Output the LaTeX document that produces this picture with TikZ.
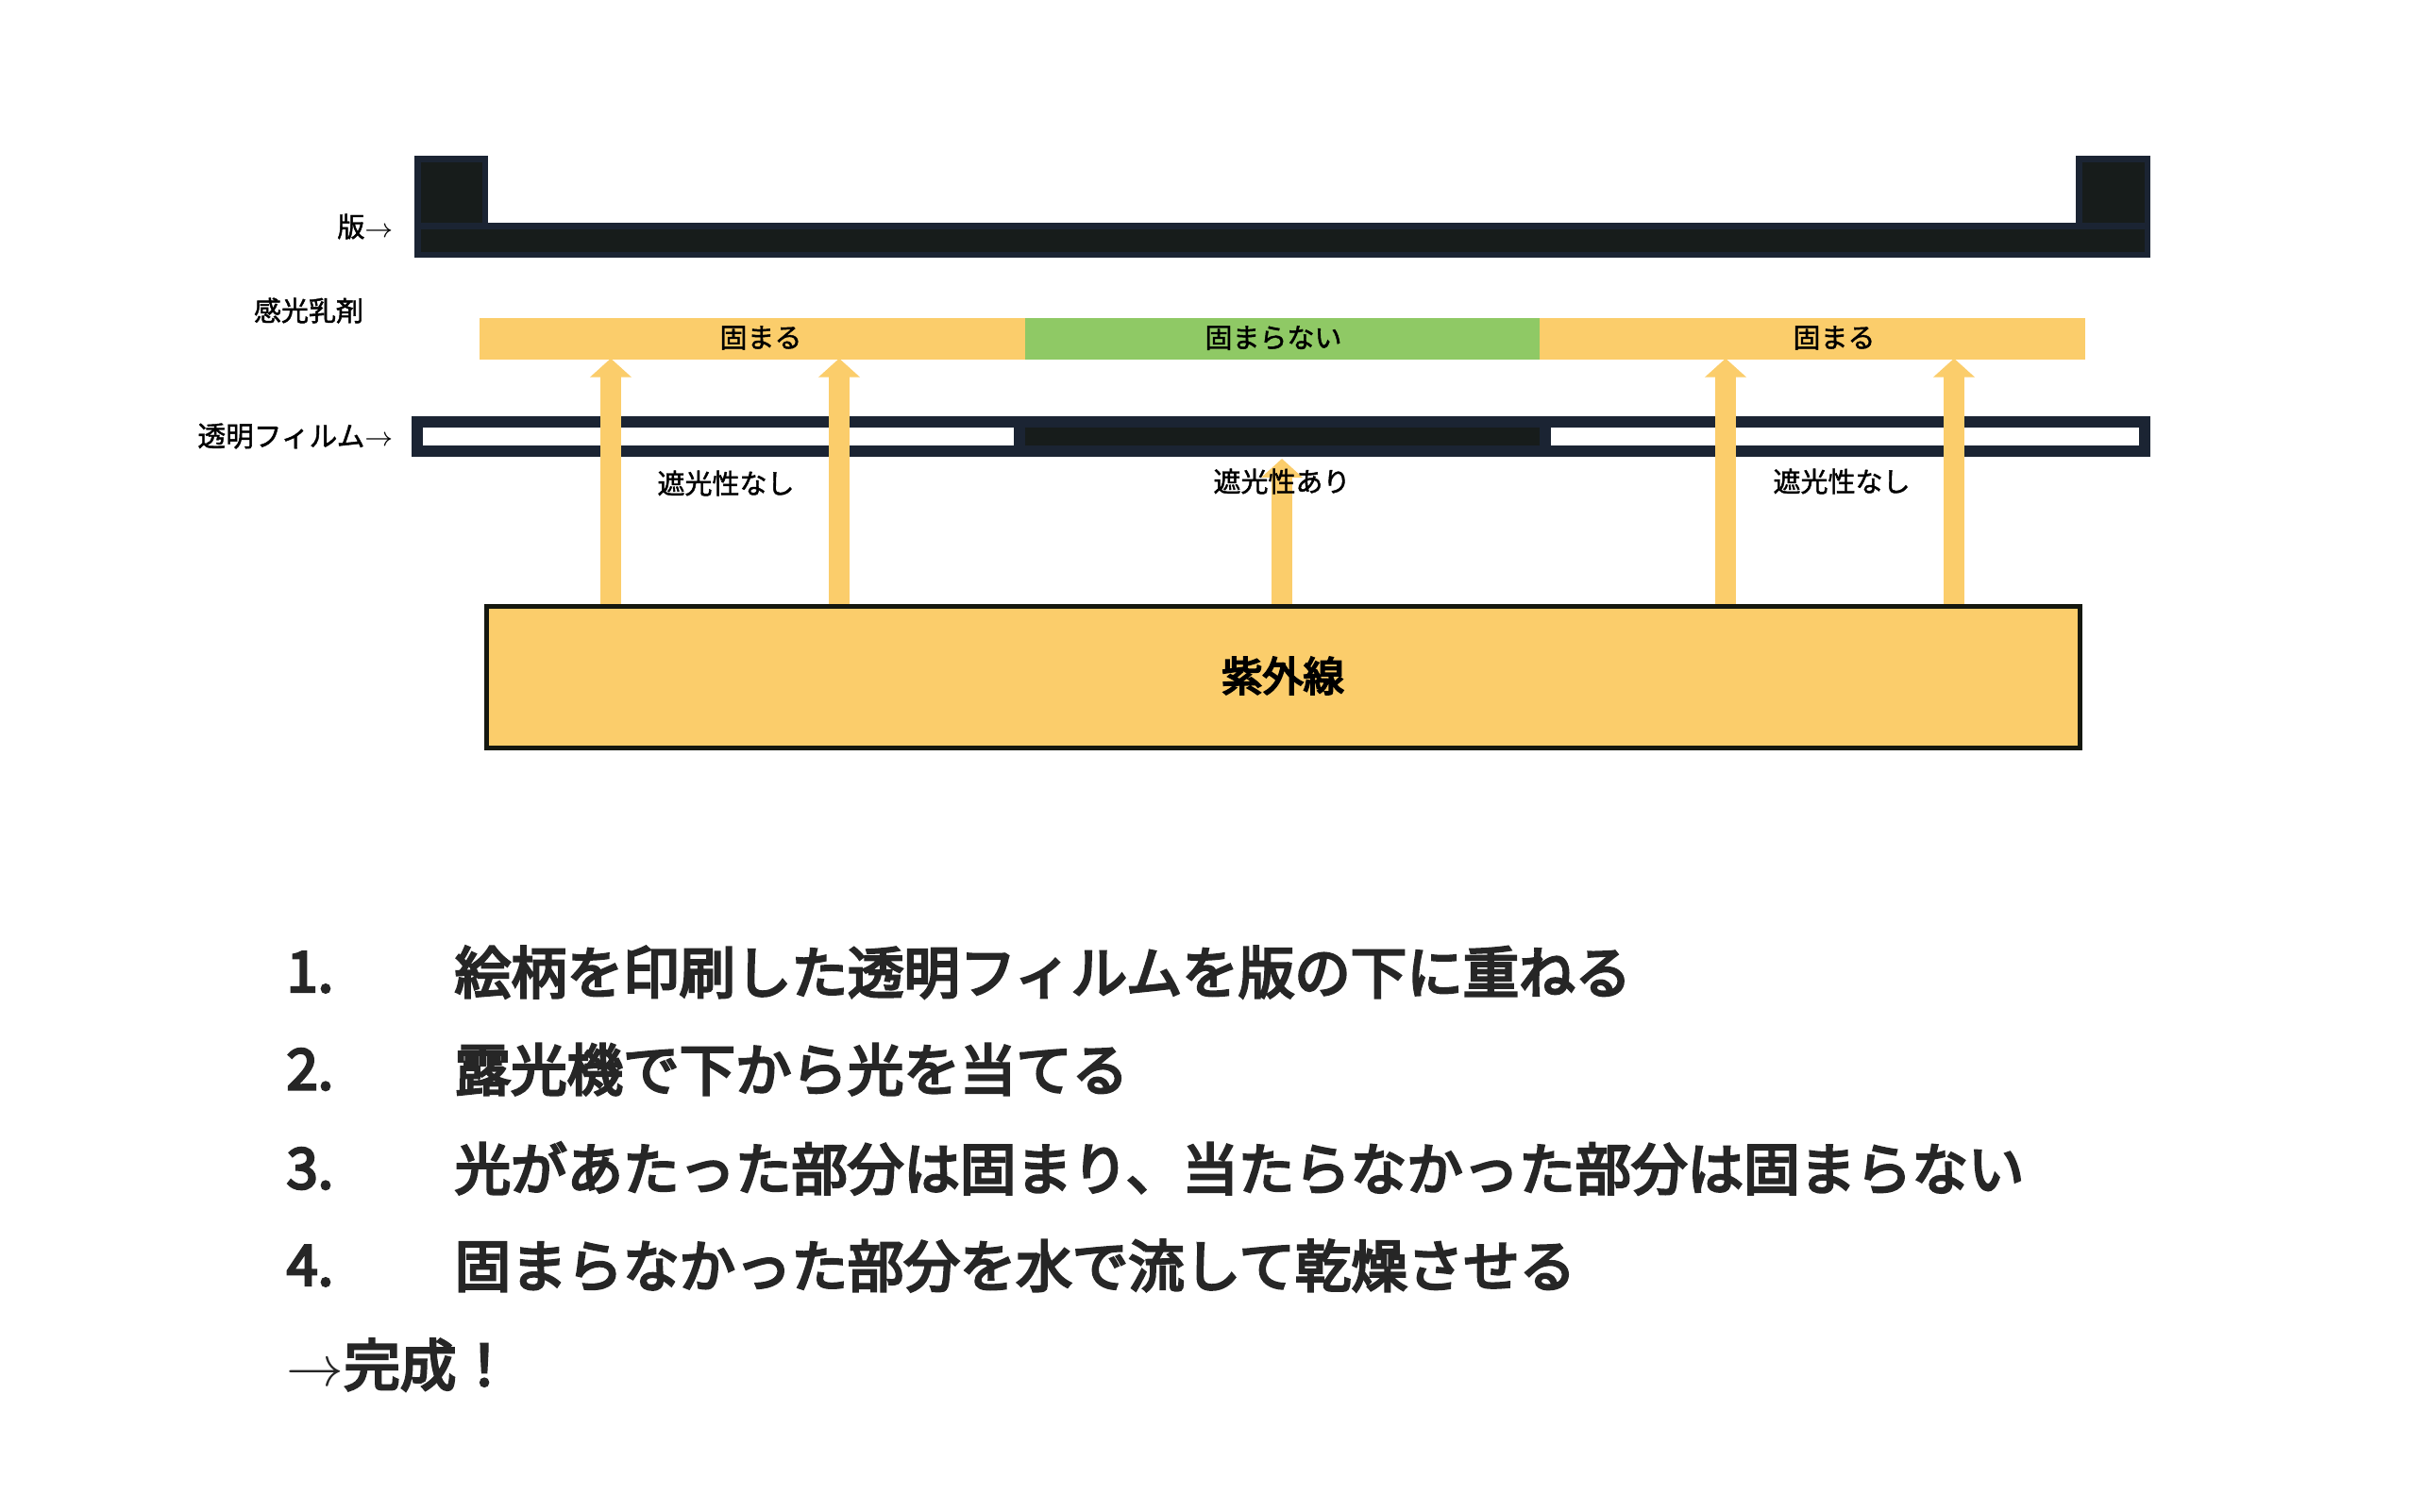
\documentclass[tikz,border=0pt]{standalone}
\usepackage{xcolor}
\usepackage{fontspec}
\usetikzlibrary{arrows.meta}
\setmainfont{Noto Sans CJK JP}
\newfontfamily\tagfont[FakeBold=1.5]{Noto Sans CJK JP}
\newfontfamily\stepfont[FakeBold=4.5]{Noto Sans CJK JP}
\newcommand{\thinarrow}{\ensuremath{\rightarrow}}
\definecolor{inkblack}{HTML}{171C1B}
\definecolor{navy}{HTML}{1B2433}
\definecolor{sunyellow}{HTML}{FBCD6B}
\definecolor{leafgreen}{HTML}{8FC965}
\definecolor{uvedge}{HTML}{14170F}
\definecolor{steptext}{HTML}{262626}

\begin{document}
\begin{tikzpicture}[
  platebox/.style={rectangle,draw=navy,line width=.065cm,fill=inkblack,inner sep=0},
  filmbox/.style={rectangle,draw=navy,line width=.12cm,inner sep=0},
  layerbox/.style={rectangle,inner sep=0,minimum height=.44cm},
  rayarrow/.style={sunyellow,line width=.22cm,shorten >=-.02cm,-{Triangle[width=.43cm,length=.2cm]}},
  tag/.style={inner sep=0,font=\fontsize{8.25pt}{10pt}\tagfont,text=black},
  stepline/.style={inner sep=0,anchor=west,font=\fontsize{16.92pt}{20pt}\stepfont,text=steptext}]
\useasboundingbox (0,0) rectangle (25.52,-16.01);
% plate
\node [platebox,minimum width=.715cm,minimum height=.705cm] (wallleft) at (4.78,-2.035) {};
\node [platebox,minimum width=.725cm,minimum height=.705cm] (wallright) at (22.385,-2.035) {};
\node [platebox,minimum width=18.325cm,minimum height=.305cm] (plate) at (13.585,-2.545) {};
\node [tag,anchor=east] (platetag) at (4.17,-2.40) {版\thinarrow};
% emulsion
\node [tag] (emulsiontag) at (3.27,-3.29) {感光乳剤};
\node [layerbox,fill=sunyellow,minimum width=5.78cm] (hardleft) at (7.97,-3.59) {};
\node [layerbox,fill=leafgreen,minimum width=5.45cm] (softmid) at (13.585,-3.59) {};
\node [layerbox,fill=sunyellow,minimum width=5.78cm] (hardright) at (19.20,-3.59) {};
\foreach \nm/\pos/\txt in {a/8.06/固まる,b/13.49/固まらない,c/19.43/固まる}
  {  \node [tag] (hardtag\nm) at (\pos,-3.58) {\txt};}
% film
\node [tag,anchor=east,font=\fontsize{8.45pt}{10pt}\tagfont] (filmtag) at (4.17,-4.62) {透明フィルム\thinarrow};
\node [filmbox,minimum width=18.30cm,minimum height=.31cm] (film) at (13.57,-4.625) {};
\node [filmbox,fill=inkblack,minimum width=5.57cm,minimum height=.31cm] (mask) at (13.585,-4.625) {};
% lamp
\node [rectangle,draw=uvedge,fill=sunyellow,line width=.05cm,inner sep=0,minimum width=16.88cm,minimum height=1.50cm] (lamp) at (13.59,-7.175) {};
\node [tag,font=\fontsize{12.3pt}{14pt}\stepfont] (lamptag) at (13.59,-7.16) {紫外線};
% rays
\coordinate (maskend) at (13.58,-4.88);
\foreach \nm/\pos/\tip in {a/6.47/hardleft.south,b/8.89/hardleft.south,c/13.58/maskend,d/18.28/hardright.south,e/20.70/hardright.south}
  {  \coordinate (ray\nm) at (\pos,0);
     \draw [rayarrow] (ray\nm |- lamp.north) -- (ray\nm |- \tip);}
\foreach \nm/\pos/\lvl/\txt in {a/7.69/-5.12/遮光性なし,b/13.58/-5.10/遮光性あり,c/19.51/-5.10/遮光性なし}
  {  \node [tag] (shadetag\nm) at (\pos,\lvl) {\txt};}
% steps
\node [stepline] (numone) at (3.03,-10.30) {1.};
\node [stepline] (numtwo) at (3.03,-11.33) {2.};
\node [stepline] (numthree) at (3.03,-12.38) {3.};
\node [stepline] (numfour) at (3.03,-13.41) {4.};
\node [stepline] (stepone) at (4.81,-10.30) {絵柄を印刷した透明フィルムを版の下に重ねる};
\node [stepline] (steptwo) at (4.81,-11.33) {露光機で下から光を当てる};
\node [stepline] (stepthree) at (4.81,-12.38) {光があたった部分は固まり、当たらなかった部分は固まらない};
\node [stepline] (stepfour) at (4.81,-13.41) {固まらなかった部分を水で流して乾燥させる};
\node [stepline] (done) at (3.03,-14.46) {\thinarrow 完成！};
\end{tikzpicture}
\end{document}
